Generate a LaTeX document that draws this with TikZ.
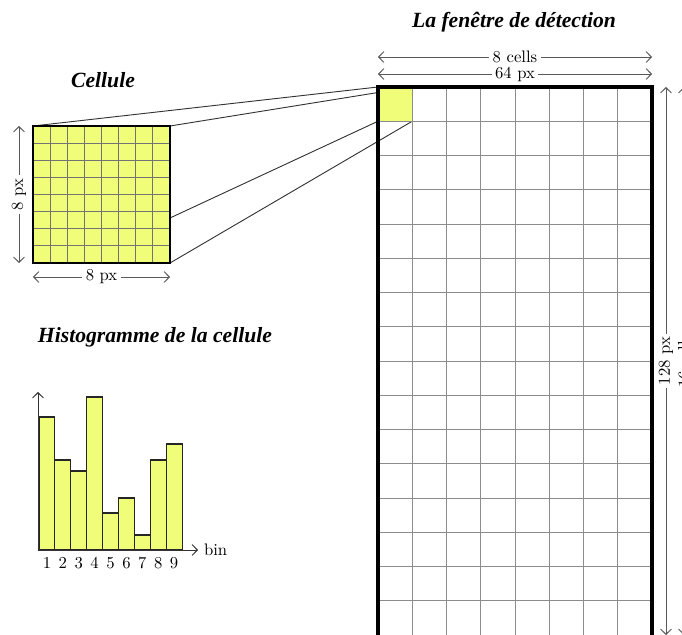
\documentclass[tikz,border=0pt]{standalone}
\usepackage{fontspec}
\newfontfamily\titlefont{Liberation Serif}
\usepackage{tikz}
\usetikzlibrary{calc,arrows.meta}
\definecolor{cellyellow}{RGB}{240,253,120}

\begin{document}
\begin{tikzpicture}[x=0.6pt,y=-0.6pt,line width=0.55pt,
                    >={Straight Barb[length=3.2pt,width=6.5pt]},
                    titre/.style={font=\titlefont\bfseries\itshape\fontsize{13}{15}\selectfont},
                    cote/.style={<->,gray!70!black},
                    cotelabel/.style={fill=white,inner sep=2pt,text=black},
                    bar/.style={draw=black!85,fill=cellyellow,line width=0.7pt}]
                      \useasboundingbox (0,0) rectangle (682,635);
                      \clip (0,0) rectangle (682,635);
                      \coordinate (win-nw) at (378,87);
                      \coordinate (win-se) at (652,637);
                      \coordinate (one-se) at (412.25,121.25);
                      \coordinate (cel-nw) at (33,126);
                      \coordinate (cel-se) at (170,263);
                      % projection de la cellule
                      \draw[black!80] (cel-nw) -- (win-nw);
                      \draw[black!80] (cel-nw -| cel-se) -- (win-nw -| one-se);
                      \draw[black!80] (170,218) -- (win-nw |- one-se);
                      \draw[black!80] (cel-se) -- (one-se);
                      % fenetre de detection
                      \fill[cellyellow] (win-nw) rectangle (one-se);
                      \foreach \i in {1,...,7}
                        \draw[gray!90] (378+\i*34.25,87) -- (378+\i*34.25,637);
                      \foreach \j in {1,...,15}
                        \draw[gray!90] (378,87+\j*34.25) -- (652,87+\j*34.25);
                      \draw[line width=2pt] (win-nw) rectangle (win-se);
                      \node[titre] (titre-win) at (514,22) {La fenêtre de détection};
                      \coordinate (c1a) at (378,57); \coordinate (c1b) at (652,57);
                      \coordinate (c2a) at (378,74); \coordinate (c2b) at (652,74);
                      \coordinate (c3a) at (666,87); \coordinate (c3b) at (666,635);
                      \coordinate (c4a) at (684,87); \coordinate (c4b) at (684,635);
                      \draw[cote] (c1a) -- node[cotelabel] (l1) {8 cells} (c1b);
                      \draw[cote] (c2a) -- node[cotelabel] (l2) {64 px} (c2b);
                      \draw[cote] (c3a) -- node[cotelabel,rotate=90] (l3) {128 px} (c3b);
                      \draw[cote] (c4a) -- node[cotelabel,rotate=90] (l4) {16 cells} (c4b);
                      % cellule
                      \node[titre] (titre-cel) at (103,80) {Cellule};
                      \fill[cellyellow] (cel-nw) rectangle (cel-se);
                      \foreach \i in {1,...,7} {
                        \draw[black!55] (33+\i*17.125,126) -- (33+\i*17.125,263);
                        \draw[black!55] (33,126+\i*17.125) -- (170,126+\i*17.125);
                      }
                      \draw[line width=0.9pt] (cel-nw) rectangle (cel-se);
                      \coordinate (c5a) at (19,126); \coordinate (c5b) at (19,263);
                      \coordinate (c6a) at (33,277); \coordinate (c6b) at (170,277);
                      \draw[cote] (c5a) -- node[cotelabel,rotate=90] (l5) {8 px} (c5b);
                      \draw[cote] (c6a) -- node[cotelabel] (l6) {8 px} (c6b);
                      % histogramme
                      \node[titre] (titre-hist) at (155,337) {Histogramme de la cellule};
                      \coordinate (origine) at (38,550);
                      \foreach \h [count=\i] in {133,90,79,153,37,52,15,90,106} {
                        \draw[bar] (39+\i*15.9-15.9,550) rectangle ++(15.9,-\h);
                        \node (n\i) at (39+\i*15.9-7.95,563) {\i};
                      }
                      \draw[->,black!80] (origine) -- (38,392);
                      \draw[->,black!80] (origine) -- (198,550) node[right,text=black] (bin) {bin};
                \end{tikzpicture}
\end{document}
